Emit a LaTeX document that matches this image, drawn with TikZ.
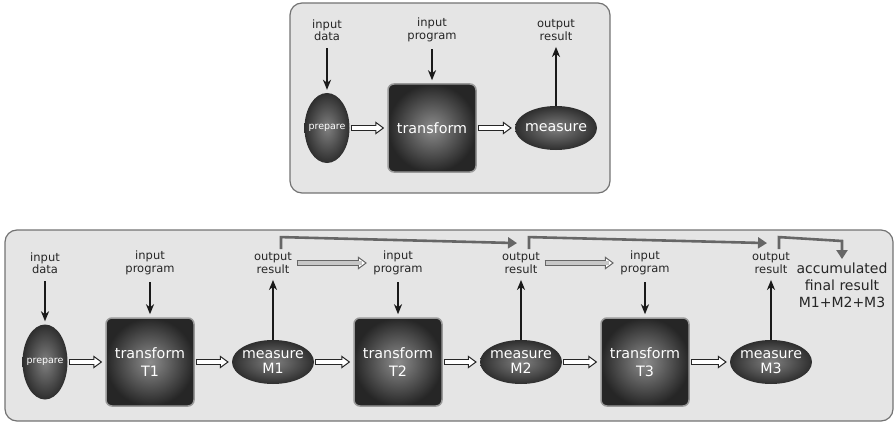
\documentclass[tikz,border=0pt]{standalone}
\usepackage{fontspec}
\setmainfont{DejaVu Sans}
\usetikzlibrary{arrows.meta,shapes.geometric,positioning}

\tikzset{
  panel/.style={draw=black!55, line width=1.2pt, fill=black!10, rounded corners=12pt},
  lbl/.style={text=black!85, align=center, font=\fontsize{11.5}{12.5}\selectfont},
  trbox/.style={rectangle, rounded corners=6pt, minimum size=88pt, draw=black!40, line width=1.5pt,
    shading=radial, inner color=black!45, outer color=black!85, text=white, align=center,
    font=\fontsize{14.3}{18}\selectfont},
  measnode/.style={ellipse, minimum width=82pt, minimum height=44pt, inner xsep=-8pt, inner ysep=-4pt,
    shading=radial, inner color=black!50, outer color=black!82, text=white, align=center,
    font=\fontsize{14.2}{15}\selectfont},
  prepnode/.style={ellipse, minimum width=45pt, minimum height=70pt, inner xsep=-9pt, inner ysep=0pt,
    shading=radial, inner color=black!50, outer color=black!82, text=white,
    font=\fontsize{9.5}{10}\selectfont},
  blk/.style={-{Stealth[length=10pt,width=8pt,inset=3pt]}, line width=1.8pt, black!90,
    shorten <=4pt, shorten >=3pt},
  opn/.style={line width=5.4pt, draw=black!85,
    -{Triangle[open, fill=white, length=9pt, width=13pt, line width=1pt]},
    shorten <=1pt, shorten >=3pt,
    postaction={draw=white, line width=3.2pt, -, shorten <=2pt, shorten >=8pt}},
  gopn/.style={line width=5.4pt, draw=black!60,
    -{Triangle[open, fill=white, length=9pt, width=13pt, line width=1pt]},
    shorten <=1pt, shorten >=3pt,
    postaction={draw=black!22, line width=3.2pt, -, shorten <=2pt, shorten >=8pt}},
  fb/.style={line width=2.6pt, draw=black!60, -{Triangle[length=9pt,width=11pt]}, black!60}
}

\begin{document}
\begin{tikzpicture}[x=1pt,y=-1pt]
  \useasboundingbox (0,0) rectangle (896,425);

  % Pannello superiore
  \draw[panel] (290,3) rectangle (610,193);
  \node[prepnode] (prep) at (327,128) {prepare};
  \node[trbox] (tr) at (432,128) {transform};
  \node[measnode] (ms) at (556,128) {measure};
  \node[lbl] (ind) at (327,30) {input\\data};
  \node[lbl] (inp) at (432,30) {input\\program};
  \node[lbl] (out) at (556,30) {output\\result};
  \draw[blk] (ind) -- (prep);
  \draw[blk] (inp) -- (tr);
  \draw[blk, shorten <=0pt] (ms) -- (out);
  \draw[opn] (prep) -- (tr);
  \draw[opn] (tr) -- (ms);

  % Pannello inferiore
  \draw[panel] (5,230) rectangle (893,421);
  \node[prepnode, minimum height=75pt] (prep0) at (45,362) {prepare};
  \node[lbl] (ind0) at (45,263) {input\\data};
  \draw[blk] (ind0) -- (prep0);
  \foreach \i/\x/\m in {1/150/273, 2/398/521, 3/645/771} {
    \node[trbox] (tr\i) at (\x,362) {transform\\T\i};
    \node[measnode] (ms\i) at (\m,362) {measure\\M\i};
    \node[lbl] (inp\i) at (\x,263) {input\\program};
    \node[lbl] (out\i) at (\m,263) {output\\result};
    \draw[blk] (inp\i) -- (tr\i);
    \draw[blk, shorten <=0pt] (ms\i) -- (out\i);
    \draw[opn] (tr\i) -- (ms\i);
  }
  \draw[opn] (prep0) -- (tr1);
  \draw[opn] (ms1) -- (tr2);
  \draw[opn] (ms2) -- (tr3);
  \draw[gopn] (out1) -- (inp2);
  \draw[gopn] (out2) -- (inp3);

  % Risultati accumulati
  \node[lbl, font=\fontsize{14}{17}\selectfont] (acc) at (842,285) {accumulated\\final result\\M1+M2+M3};
  \coordinate (fin) at (842,241);
  \draw[fb] ([xshift=8pt]out1.north) -- ++(0,-12) -- ([xshift=-4pt,yshift=6pt]out2.north);
  \draw[fb] ([xshift=8pt]out2.north) -- ++(0,-12) -- ([xshift=-4pt,yshift=6pt]out3.north);
  \draw[fb] ([xshift=8pt]out3.north) -- ++(0,-12) -- (fin) -- (acc);
\end{tikzpicture}
\end{document}
